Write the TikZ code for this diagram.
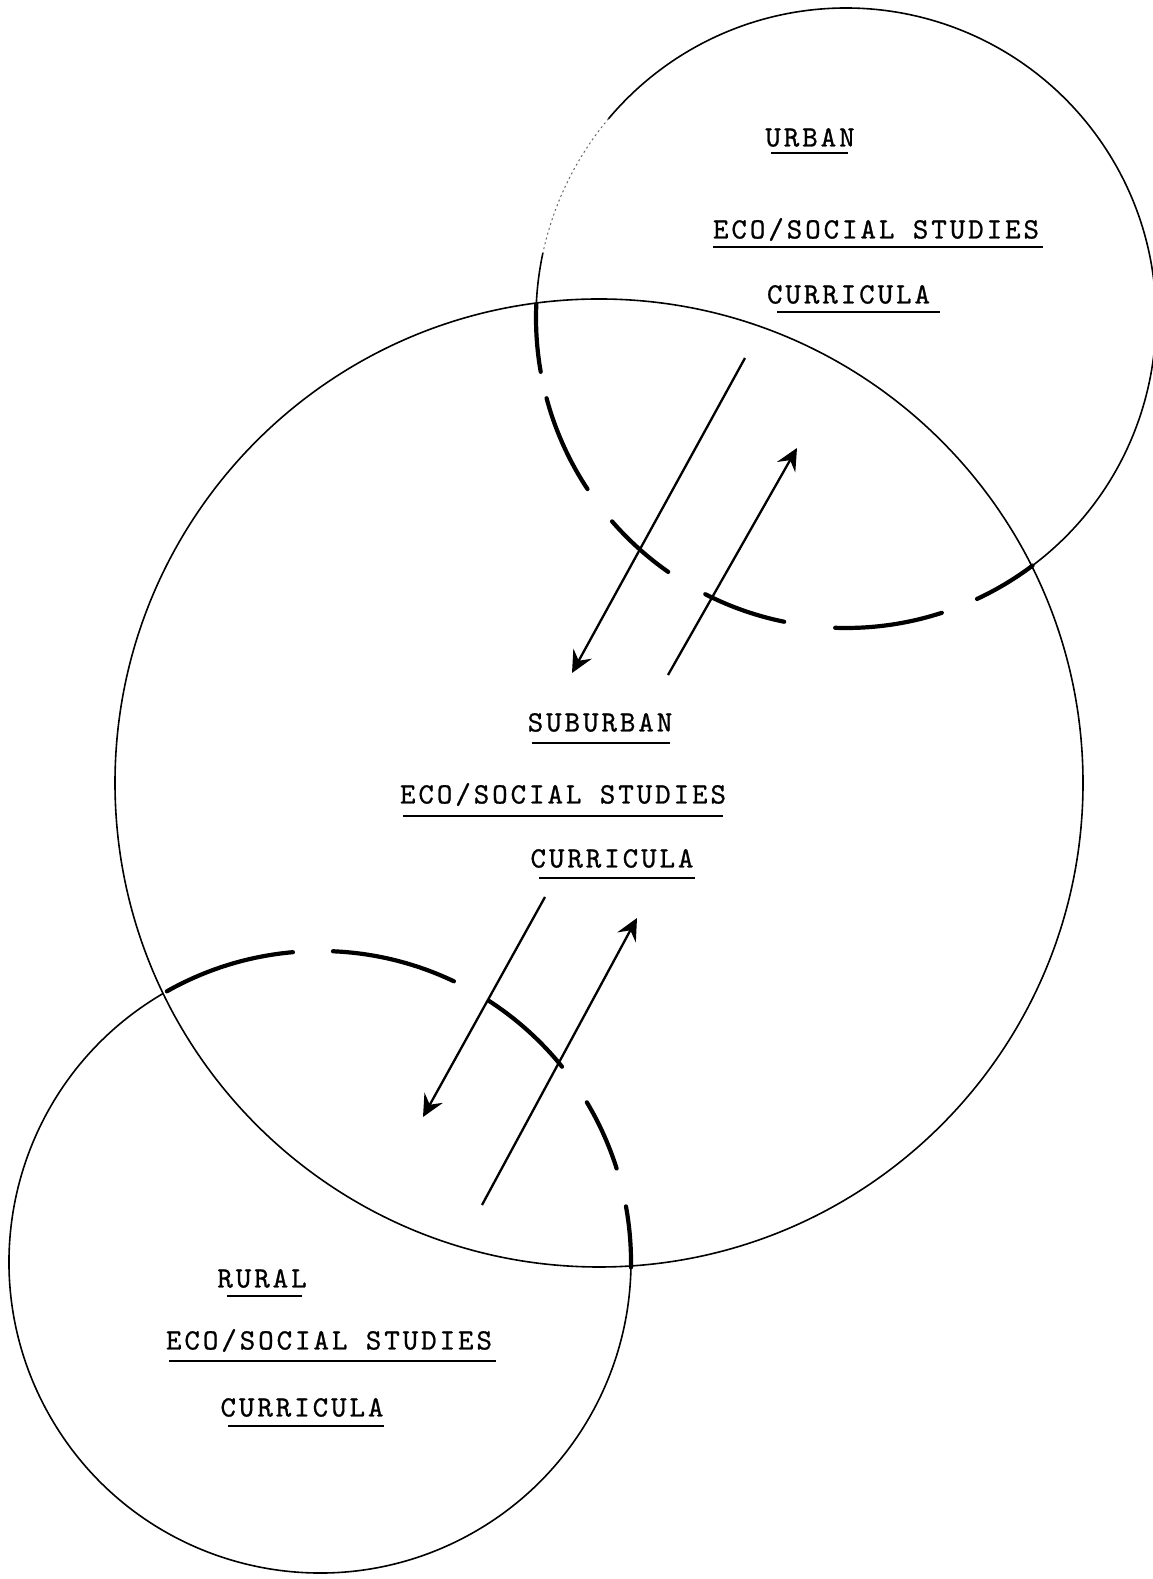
\documentclass[tikz,border=0pt]{standalone}
\usepackage{fontspec}
\usetikzlibrary{arrows.meta}
\newfontfamily\twfont{lmmono10-regular.otf}[LetterSpace=10, FakeBold=0.8]
\newcommand\myarc[4]{(#1) ++(#2:#4) arc[start angle=#2, end angle=#3, radius=#4]}
\newcommand\typewr{\twfont\fontsize{29.5}{35}\selectfont}
\begin{document}
\begin{tikzpicture}[x=1pt,y=1pt,
  thinarc/.style={line width=1.6pt, line cap=round},
  fadearc/.style={line width=1pt, dash pattern=on 2pt off 3pt, black!60},
  heavydash/.style={line width=4.2pt, line cap=round},
  flow/.style={line width=2.3pt, -{Stealth[length=22pt,width=21pt,inset=8pt]}},
  lbl/.style={font=\typewr, inner sep=0pt, anchor=base},
  uline/.style={line width=1.3pt}]
\useasboundingbox (0,0) rectangle (1153,1579);
\fill[white] (0,0) rectangle (1153,1579);

% circle centres
\coordinate (U) at (846,1261);
\coordinate (S) at (599,796);
\coordinate (R) at (320,317);

% suburban circle
\draw[thinarc] (S) circle[radius=484pt];

% urban circle
\draw[thinarc] \myarc{U}{-53.2}{140}{310pt};
\draw[fadearc] \myarc{U}{140}{168}{310pt};
\draw[thinarc] \myarc{U}{168}{178}{310pt};
\draw[heavydash] \myarc{U}{177.5}{190}{310pt};
\draw[heavydash] \myarc{U}{195}{213.5}{310pt};
\draw[heavydash] \myarc{U}{221}{235}{310pt};
\draw[heavydash] \myarc{U}{243}{258.5}{310pt};
\draw[heavydash] \myarc{U}{268}{288}{310pt};
\draw[heavydash] \myarc{U}{295}{307}{310pt};

% rural circle
\draw[thinarc] \myarc{R}{120.3}{359.3}{311pt};
\draw[heavydash] \myarc{R}{119.5}{95}{311pt};
\draw[heavydash] \myarc{R}{87.6}{64.5}{311pt};
\draw[heavydash] \myarc{R}{57.1}{38.9}{311pt};
\draw[heavydash] \myarc{R}{30.9}{17.5}{311pt};
\draw[heavydash] \myarc{R}{10.3}{-1}{311pt};

% arrow end points
\coordinate (a1s) at (745,1221);
\coordinate (a1e) at (572,906);
\coordinate (a2s) at (668,904);
\coordinate (a2e) at (797,1131);
\coordinate (a3s) at (545,682);
\coordinate (a3e) at (423,462);
\coordinate (a4s) at (482,374);
\coordinate (a4e) at (637,661);
\draw[flow] (a1s) -- (a1e);
\draw[flow] (a2s) -- (a2e);
\draw[flow] (a3s) -- (a3e);
\draw[flow] (a4s) -- (a4e);

% labels
\node[lbl] (u1) at (810,1432.5) {URBAN};
\node[lbl] (u2) at (876,1340.5) {ECO/SOCIAL STUDIES};
\node[lbl] (u3) at (848.5,1275.5) {CURRICULA};
\node[lbl] (s1) at (600,847.5) {SUBURBAN};
\node[lbl] (s2) at (563,775.5) {ECO/SOCIAL STUDIES};
\node[lbl] (s3) at (612,711.5) {CURRICULA};
\node[lbl] (r1) at (262,291.5) {RURAL};
\node[lbl] (r2) at (329,229.5) {ECO/SOCIAL STUDIES};
\node[lbl] (r3) at (302,162.5) {CURRICULA};

% underlines
\draw[uline] (771,1426) -- (848,1426);
\draw[uline] (713,1332) -- (1043,1332);
\draw[uline] (777,1267) -- (940,1267);
\draw[uline] (532,836) -- (670,836);
\draw[uline] (403,763) -- (723,763);
\draw[uline] (539,701) -- (695,701);
\draw[uline] (227,283) -- (302,283);
\draw[uline] (169,218) -- (496,218);
\draw[uline] (228,153) -- (384,153);
\end{tikzpicture}
\end{document}
